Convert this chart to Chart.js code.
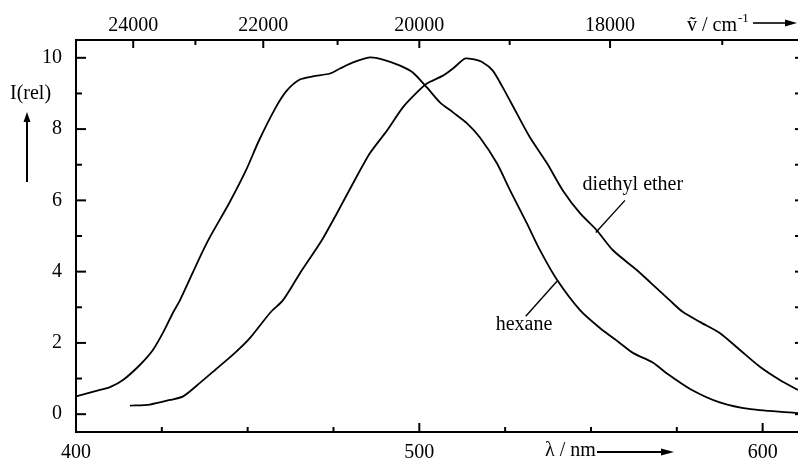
<!DOCTYPE html>
<html lang="en">
<head>
  <meta charset="UTF-8" />
  <title>Emission spectra – hexane vs. diethyl ether</title>
  <script src="https://cdn.jsdelivr.net/npm/chart.js"></script>
  <style>
    html, body { margin: 0; padding: 0; background: #fff; }
    #wrap { width: 798px; height: 459px; position: relative; }
  </style>
</head>
<body>
  <div id="wrap"><canvas id="spectra"></canvas></div>

  <script>
    // emission spectra, relative intensity vs. wavelength (nm)
    const hexaneNm = [400, 407, 409.9, 413.7, 418.6, 422.4, 425.3, 428.2, 430.3, 436.1, 439.0, 444.6, 449.5,
      453.3, 458.2, 461.4, 465.2, 469.0, 474.0, 476.9, 480.7, 485.6, 489.4, 494.4, 498.1, 502.2, 506.0, 509.8,
      513.9, 517.6, 522.6, 526.4, 531.3, 535.1, 540.1, 546.8, 552.6, 558.4, 562.2, 568.0, 572.0, 579.0, 587.5,
      596.5, 610.3];
    const hexaneI = [0.50, 0.68, 0.76, 0.96, 1.38, 1.80, 2.28, 2.84, 3.20, 4.41, 4.97, 5.92, 6.84,
      7.68, 8.61, 9.08, 9.39, 9.48, 9.56, 9.70, 9.87, 10.01, 9.95, 9.78, 9.59, 9.17, 8.75, 8.47,
      8.16, 7.77, 7.04, 6.29, 5.36, 4.61, 3.77, 2.92, 2.42, 2.00, 1.72, 1.45, 1.15, 0.70, 0.33,
      0.14, 0.03];

    const etherNm = [415.7, 421.5, 427.4, 431.2, 436.1, 440.5, 446.3, 450.7, 456.5, 460.3, 465.2, 471.6, 476.0,
      480.7, 485.6, 490.6, 495.2, 499.3, 502.2, 506.9, 509.8, 513.3, 515.6, 518.5, 521.4, 524.3, 528.4, 532.2,
      537.2, 541.8, 546.8, 551.7, 556.4, 563.4, 567.5, 572.9, 576.6, 581.7, 587.5, 593.4, 599.2, 605.0, 610.3];
    const etherI = [0.24, 0.27, 0.40, 0.50, 0.88, 1.24, 1.72, 2.14, 2.84, 3.20, 3.95, 4.88, 5.64,
      6.48, 7.32, 7.96, 8.61, 9.03, 9.28, 9.50, 9.70, 9.98, 9.96, 9.87, 9.64, 9.17, 8.44, 7.77,
      7.04, 6.28, 5.64, 5.16, 4.60, 4.04, 3.68, 3.20, 2.88, 2.59, 2.28, 1.80, 1.33, 0.96, 0.68];

    // axes
    const nmMin = 400, nmMax = 610.3;
    const nmTicks = [400, 500, 600];
    const nmMinor = [425, 450, 475, 525, 550, 575];
    const intensityTicks = [0, 2, 4, 6, 8, 10];
    const intensityMinor = [1, 3, 5, 7, 9];
    const wavenumberTicks = [24000, 22000, 20000, 18000];
    const wavenumberMinor = [23000, 21000, 19000, 17000];

    // curve labels with their leader lines, in data units
    const curveLabels = [
      { text: 'diethyl ether', x: 562.2, y: 6.45, from: [559.9, 6.0], to: [551.4, 5.1] },
      { text: 'hexane', x: 530.5, y: 2.5, from: [540.1, 3.73], to: [531.0, 2.75] }
    ];

    const serif = "'Liberation Serif', 'Times New Roman', serif";
    Chart.defaults.font.family = serif;
    Chart.defaults.font.size = 20;
    Chart.defaults.color = '#000';

    const toPoints = (xs, ys) => xs.map((x, i) => ({ x, y: ys[i] }));

    function arrow(ctx, x1, y1, x2, y2, head, half) {
      const a = Math.atan2(y2 - y1, x2 - x1);
      const bx = x2 - head * Math.cos(a), by = y2 - head * Math.sin(a);
      ctx.beginPath();
      ctx.moveTo(x1, y1);
      ctx.lineTo(bx, by);
      ctx.stroke();
      ctx.beginPath();
      ctx.moveTo(x2, y2);
      ctx.lineTo(bx + half * Math.sin(a), by - half * Math.cos(a));
      ctx.lineTo(bx - half * Math.sin(a), by + half * Math.cos(a));
      ctx.closePath();
      ctx.fill();
    }

    // inward tick marks, axis titles and curve labels
    const decor = {
      id: 'decor',
      afterDraw(chart) {
        const { ctx, chartArea: area, scales } = chart;
        const x = scales.x, y = scales.y, top = scales.xTop;
        ctx.save();
        ctx.strokeStyle = '#000';
        ctx.fillStyle = '#000';
        ctx.lineWidth = 2;

        const vTick = (px, y0, len) => { ctx.beginPath(); ctx.moveTo(px, y0); ctx.lineTo(px, y0 + len); ctx.stroke(); };
        const hTick = (py, x0, len) => { ctx.beginPath(); ctx.moveTo(x0, py); ctx.lineTo(x0 + len, py); ctx.stroke(); };

        nmTicks.forEach(v => vTick(x.getPixelForValue(v), area.bottom, -9));
        nmMinor.forEach(v => vTick(x.getPixelForValue(v), area.bottom, -5));
        wavenumberTicks.forEach(w => vTick(top.getPixelForValue(1e7 / w), area.top, 8));
        wavenumberMinor.forEach(w => vTick(top.getPixelForValue(1e7 / w), area.top, 5));
        intensityTicks.forEach(v => hTick(y.getPixelForValue(v), area.left, 10));
        intensityMinor.forEach(v => hTick(y.getPixelForValue(v), area.left, 6));
        intensityTicks.concat(intensityMinor).forEach(v => hTick(y.getPixelForValue(v), area.right, -3));

        ctx.font = '20px ' + serif;
        ctx.textBaseline = 'middle';
        ctx.textAlign = 'left';

        // y title with upward arrow
        ctx.fillText('I(rel)', 10, 94);
        ctx.lineWidth = 2;
        arrow(ctx, 27, 182, 27, 112, 10, 3.5);

        // bottom title
        ctx.fillText('λ / nm', 545, 451);
        arrow(ctx, 597, 452, 674, 452, 13, 3.5);

        // top title: wavenumber with superscript
        let tx = 687;
        ctx.fillText('ṽ / cm', tx, 26);
        tx += ctx.measureText('ṽ / cm').width + 1;
        ctx.font = '13px ' + serif;
        ctx.fillText('-1', tx, 19);
        ctx.font = '20px ' + serif;
        ctx.lineWidth = 1.6;
        arrow(ctx, 753, 23, 797, 23, 12, 3.5);

        // curve labels
        ctx.lineWidth = 1.4;
        ctx.textAlign = 'center';
        curveLabels.forEach(l => {
          ctx.fillText(l.text, x.getPixelForValue(l.x), y.getPixelForValue(l.y));
          ctx.beginPath();
          ctx.moveTo(x.getPixelForValue(l.from[0]), y.getPixelForValue(l.from[1]));
          ctx.lineTo(x.getPixelForValue(l.to[0]), y.getPixelForValue(l.to[1]));
          ctx.stroke();
        });
        ctx.restore();
      }
    };

    const axisLine = { display: true, color: '#000', width: 2 };

    new Chart(document.getElementById('spectra'), {
      type: 'line',
      data: {
        datasets: [
          { label: 'hexane', data: toPoints(hexaneNm, hexaneI) },
          { label: 'diethyl ether', data: toPoints(etherNm, etherI) }
        ]
      },
      options: {
        responsive: true,
        maintainAspectRatio: false,
        animation: false,
        events: [],
        layout: { padding: 0 },
        elements: {
          line: { borderColor: '#000', borderWidth: 1.8, tension: 0.25 },
          point: { radius: 0 }
        },
        plugins: { legend: { display: false }, tooltip: { enabled: false } },
        scales: {
          x: {
            type: 'linear', position: 'bottom', min: nmMin, max: nmMax,
            afterBuildTicks: s => { s.ticks = nmTicks.map(value => ({ value })); },
            afterFit: s => { s.height = 27; },
            grid: { display: false, drawTicks: false },
            border: axisLine,
            ticks: { padding: 9, autoSkip: false, maxRotation: 0 }
          },
          xTop: {
            type: 'linear', position: 'top', min: nmMin, max: nmMax,
            afterBuildTicks: s => { s.ticks = wavenumberTicks.map(w => ({ value: 1e7 / w })); },
            afterFit: s => { s.height = 40; },
            grid: { display: false, drawTicks: false },
            border: axisLine,
            ticks: { padding: 2, autoSkip: false, maxRotation: 0, callback: (v, i) => String(wavenumberTicks[i]) }
          },
          y: {
            type: 'linear', position: 'left', min: -0.5, max: 10.5,
            afterBuildTicks: s => { s.ticks = intensityTicks.map(value => ({ value })); },
            afterFit: s => { s.width = 76; },
            grid: { display: false, drawTicks: false },
            border: axisLine,
            ticks: { padding: 14 }
          }
        }
      },
      plugins: [decor]
    });
  </script>
</body>
</html>
